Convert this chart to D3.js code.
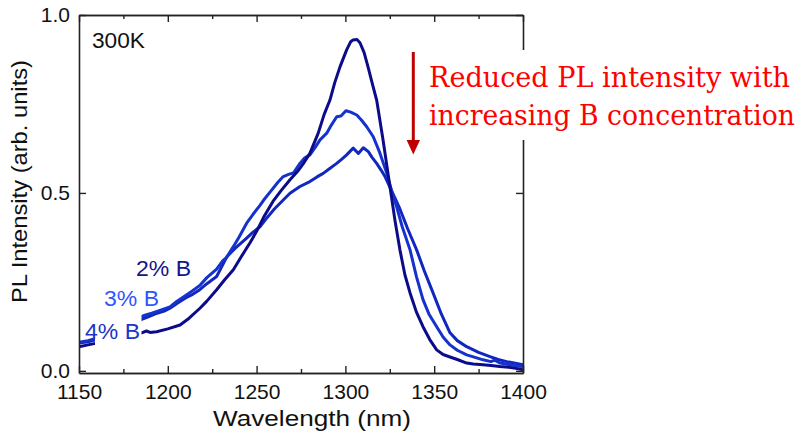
<!DOCTYPE html>
<html>
<head>
<meta charset="utf-8">
<script src="https://cdn.jsdelivr.net/npm/d3@7"></script>
<style>
  html, body { margin: 0; padding: 0; background: #fff; }
  svg { display: block; }
</style>
</head>
<body>
<div id="chart"></div>
<script>
// ---------------- data ----------------
const seriesNames = ["2% B", "3% B", "4% B"];

const wl2 = [1150,1155,1160,1170,1180,1185.3,1188,1190,1193.7,1200,1206.9,1212,1218.1,1222,1227.5,1232,1236.9,1241,1246.3,1250,1254,1259.2,1264,1268.8,1273,1276,1280,1284.7,1288,1291.3,1294,1297,1300.7,1303,1304.3,1306.5,1308.2,1310.5,1312.7,1315,1317.6,1321.2,1325.1,1328,1330.7,1333.5,1336.4,1340,1343.7,1347.5,1351.4,1355,1358.9,1363,1368.3,1372,1377.5,1382,1387,1392,1396,1400];
const pl2 = [.068,.073,.078,.088,.099,.107,.112,.108,.110,.118,.129,.148,.176,.196,.228,.256,.284,.318,.360,.392,.432,.476,.508,.537,.560,.580,.611,.668,.720,.761,.810,.855,.902,.925,.930,.931,.922,.895,.855,.810,.761,.649,.517,.420,.340,.270,.219,.165,.124,.088,.059,.046,.039,.032,.022,.019,.017,.015,.012,.010,.007,.003];

const wl3 = [1150,1155,1160,1170,1180,1185.3,1188,1191,1195.6,1201.2,1205,1209,1213,1218,1222,1227.5,1231,1233,1236.9,1240,1244.4,1248,1251.9,1254,1258,1262,1265,1268,1270.7,1274.4,1277,1280,1283,1285.7,1289.5,1292,1295.1,1297.5,1300.3,1303,1306.4,1309,1312,1315.7,1319.5,1323.3,1326.1,1328.9,1332,1336.4,1340,1343.7,1347,1351.4,1355,1358.9,1363,1368.3,1373,1377.5,1382,1384,1387,1392,1396,1400];
const pl3 = [.080,.085,.092,.110,.135,.153,.158,.162,.170,.180,.195,.208,.222,.240,.262,.286,.310,.318,.349,.375,.415,.440,.465,.480,.505,.530,.546,.552,.556,.583,.598,.607,.628,.649,.668,.690,.714,.716,.731,.727,.719,.705,.686,.658,.611,.555,.505,.460,.405,.340,.265,.200,.160,.124,.095,.073,.058,.045,.038,.031,.026,.030,.022,.018,.014,.012];

const wl4 = [1150,1155,1160,1170,1180,1185.3,1189,1193,1198,1201.2,1206,1210,1214,1218,1222,1227.5,1233.3,1238,1244.4,1248,1251.9,1255,1260,1265,1268.8,1274.4,1280,1284,1287.5,1291,1295.1,1298,1300.7,1304.4,1307.3,1310.1,1312.9,1315,1317.6,1320,1322.3,1326.1,1330.7,1335,1340.1,1344.5,1349.3,1354,1358.9,1363,1368.3,1375,1381.4,1386,1390.8,1395,1400];
const pl4 = [.078,.082,.088,.105,.128,.145,.152,.160,.168,.176,.192,.205,.215,.228,.245,.265,.321,.345,.373,.390,.405,.425,.455,.480,.499,.518,.532,.545,.555,.568,.583,.595,.607,.626,.611,.627,.616,.600,.583,.565,.546,.505,.455,.400,.340,.280,.220,.160,.107,.085,.068,.052,.040,.032,.026,.022,.017];

const xTicks = [1150, 1200, 1250, 1300, 1350, 1400];
const xMinorTicks = [1175, 1225, 1275, 1325, 1375];
const yTicks = [0, 0.5, 1.0];
const tempLabel = "300K";
const xTitle = "Wavelength (nm)";
const yTitle = "PL Intensity (arb. units)";
const noteLines = ["Reduced PL intensity with", "increasing B concentration"];

// ---------------- layout ----------------
const W = 799, H = 435;
const plot = { left: 79, right: 523, top: 15, bottom: 373 };
const colors = { "2% B": "#0c0c8a", "3% B": "#1632cc", "4% B": "#1226c0" };
const labelColors = { "2% B": "#14148c", "3% B": "#3355ff", "4% B": "#1d33c8" };
const axisColor = "#222";
const sansFont = "Liberation Sans, Arial, Helvetica, sans-serif";

const svg = d3.select("#chart").append("svg")
  .attr("width", W).attr("height", H)
  .attr("font-family", sansFont);
svg.append("rect").attr("width", W).attr("height", H).attr("fill", "#fff");

const x = d3.scaleLinear().domain([1150, 1400]).range([plot.left, plot.right]);
const y = d3.scaleLinear().domain([-0.006, 1.0]).range([plot.bottom, plot.top]);

svg.append("defs").append("clipPath").attr("id", "clip")
  .append("rect").attr("x", plot.left).attr("y", plot.top)
  .attr("width", plot.right - plot.left).attr("height", plot.bottom - plot.top);

// ---------------- curves ----------------
const series = [
  { name: "4% B", wl: wl4, pl: pl4 },
  { name: "3% B", wl: wl3, pl: pl3 },
  { name: "2% B", wl: wl2, pl: pl2 }
];
const line = d3.line().x(d => x(d[0])).y(d => y(d[1]));
const gLines = svg.append("g").attr("clip-path", "url(#clip)");
series.forEach(s => {
  gLines.append("path")
    .datum(s.wl.map((w, i) => [w, s.pl[i]]))
    .attr("d", line)
    .attr("fill", "none")
    .attr("stroke", colors[s.name])
    .attr("stroke-width", 3)
    .attr("stroke-linejoin", "round");
});

// ---------------- axes ----------------
function styleAxis(g) {
  g.attr("font-family", sansFont).attr("font-size", 21);
  g.select(".domain").attr("stroke", axisColor).attr("stroke-width", 1.6);
  g.selectAll(".tick line").attr("stroke", axisColor).attr("stroke-width", 1.4);
  g.selectAll(".tick text").attr("fill", "#111");
}
const gx = svg.append("g").attr("transform", `translate(0,${plot.bottom})`)
  .call(d3.axisBottom(x).tickValues(xTicks).tickSize(-7).tickSizeOuter(0).tickPadding(11).tickFormat(d3.format("d")));
styleAxis(gx);
const gxm = svg.append("g").attr("transform", `translate(0,${plot.bottom})`)
  .call(d3.axisBottom(x).tickValues(xMinorTicks).tickSize(-4).tickSizeOuter(0).tickFormat(""));
styleAxis(gxm);
const gxt = svg.append("g").attr("transform", `translate(0,${plot.top})`)
  .call(d3.axisTop(x).tickValues(xTicks).tickSize(-7).tickSizeOuter(0).tickFormat(""));
styleAxis(gxt);
const gxtm = svg.append("g").attr("transform", `translate(0,${plot.top})`)
  .call(d3.axisTop(x).tickValues(xMinorTicks).tickSize(-4).tickSizeOuter(0).tickFormat(""));
styleAxis(gxtm);
const gy = svg.append("g").attr("transform", `translate(${plot.left},0)`)
  .call(d3.axisLeft(y).tickValues(yTicks).tickSize(-7).tickSizeOuter(0).tickPadding(9).tickFormat(d3.format(".1f")));
styleAxis(gy);
const gyr = svg.append("g").attr("transform", `translate(${plot.right},0)`)
  .call(d3.axisRight(y).tickValues(yTicks).tickSize(-7).tickSizeOuter(0).tickFormat(""));
styleAxis(gyr);

// ---------------- titles ----------------
svg.append("text")
  .attr("x", 213).attr("y", 426)
  .attr("textLength", 198).attr("lengthAdjust", "spacingAndGlyphs")
  .attr("font-size", 22).attr("fill", "#111")
  .text(xTitle);
svg.append("text")
  .attr("transform", "translate(27,303) rotate(-90)")
  .attr("textLength", 243).attr("lengthAdjust", "spacingAndGlyphs")
  .attr("font-size", 22).attr("fill", "#111")
  .text(yTitle);

svg.append("text").attr("x", 92).attr("y", 48)
  .attr("textLength", 53).attr("lengthAdjust", "spacingAndGlyphs")
  .attr("font-size", 22).attr("fill", "#111").text(tempLabel);

// ---------------- series labels ----------------
const labelPos = { "2% B": [136, 276], "3% B": [104, 306], "4% B": [85, 338.5] };
// white patch behind the 4% label (hides the curves there, as in the reference)
svg.append("rect").attr("x", 95).attr("y", 310).attr("width", 46.5).attr("height", 42).attr("fill", "#fff");
seriesNames.forEach(n => {
  svg.append("text").attr("x", labelPos[n][0]).attr("y", labelPos[n][1])
    .attr("textLength", 55).attr("lengthAdjust", "spacingAndGlyphs")
    .attr("font-size", 22).attr("fill", labelColors[n]).text(n);
});

// ---------------- annotation ----------------
svg.append("rect").attr("x", 424).attr("y", 50).attr("width", W - 424).attr("height", 90).attr("fill", "#fff");
svg.append("line").attr("x1", 413.3).attr("x2", 413.3).attr("y1", 52).attr("y2", 142)
  .attr("stroke", "#c00000").attr("stroke-width", 3);
svg.append("path").attr("d", "M406.6,140 L420,140 L413.3,154.5 Z").attr("fill", "#c00000");
const noteY = [87, 125], noteLen = [361, 366];
noteLines.forEach((t, i) => {
  svg.append("text").attr("x", 429).attr("y", noteY[i])
    .attr("textLength", noteLen[i]).attr("lengthAdjust", "spacingAndGlyphs")
    .attr("font-family", "DejaVu Serif, Georgia, serif")
    .attr("font-size", 27).attr("fill", "#ff0000").text(t);
});
</script>
</body>
</html>
